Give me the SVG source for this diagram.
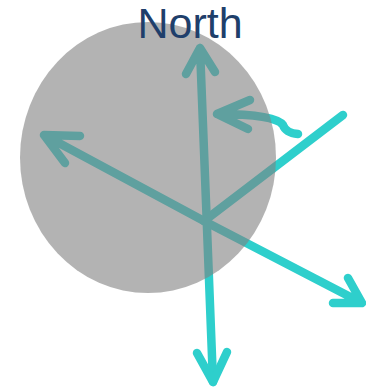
<svg xmlns="http://www.w3.org/2000/svg" width="366" height="388" viewBox="0 0 366 388">
<style>
.a{fill:none;stroke:#2ecfcc;stroke-width:8.5;stroke-linecap:round;stroke-linejoin:round}
.t{font-family:"Liberation Sans",Arial,sans-serif;font-size:43px;fill:#1f3f6b}
</style>
<g id="connectors">
<path class="a" d="M213,382 L200,48 M186,74 L200,48 L215,72"/>
<path class="a" d="M197,353 L213,382 L227,352"/>
<path class="a" d="M343,115 L204,221"/>
<path class="a" d="M204,221 L44,135 M80,136 L44,135 L65,163"/>
<path class="a" d="M204,221 L362,303 M348,278 L362,303 L333,303"/>
<path class="a" d="M298,134 C287,133 284,128 283,125 C278,118 255,114 217,114 M250,100 L217,114 L248,129"/>
</g>
<g id="globe">
<ellipse cx="148" cy="157.5" rx="128" ry="135.5" fill="#808080" opacity="0.6"/>
</g>
<g id="label">
<text class="t" x="190" y="38" text-anchor="middle">North</text>
</g>
</svg>
